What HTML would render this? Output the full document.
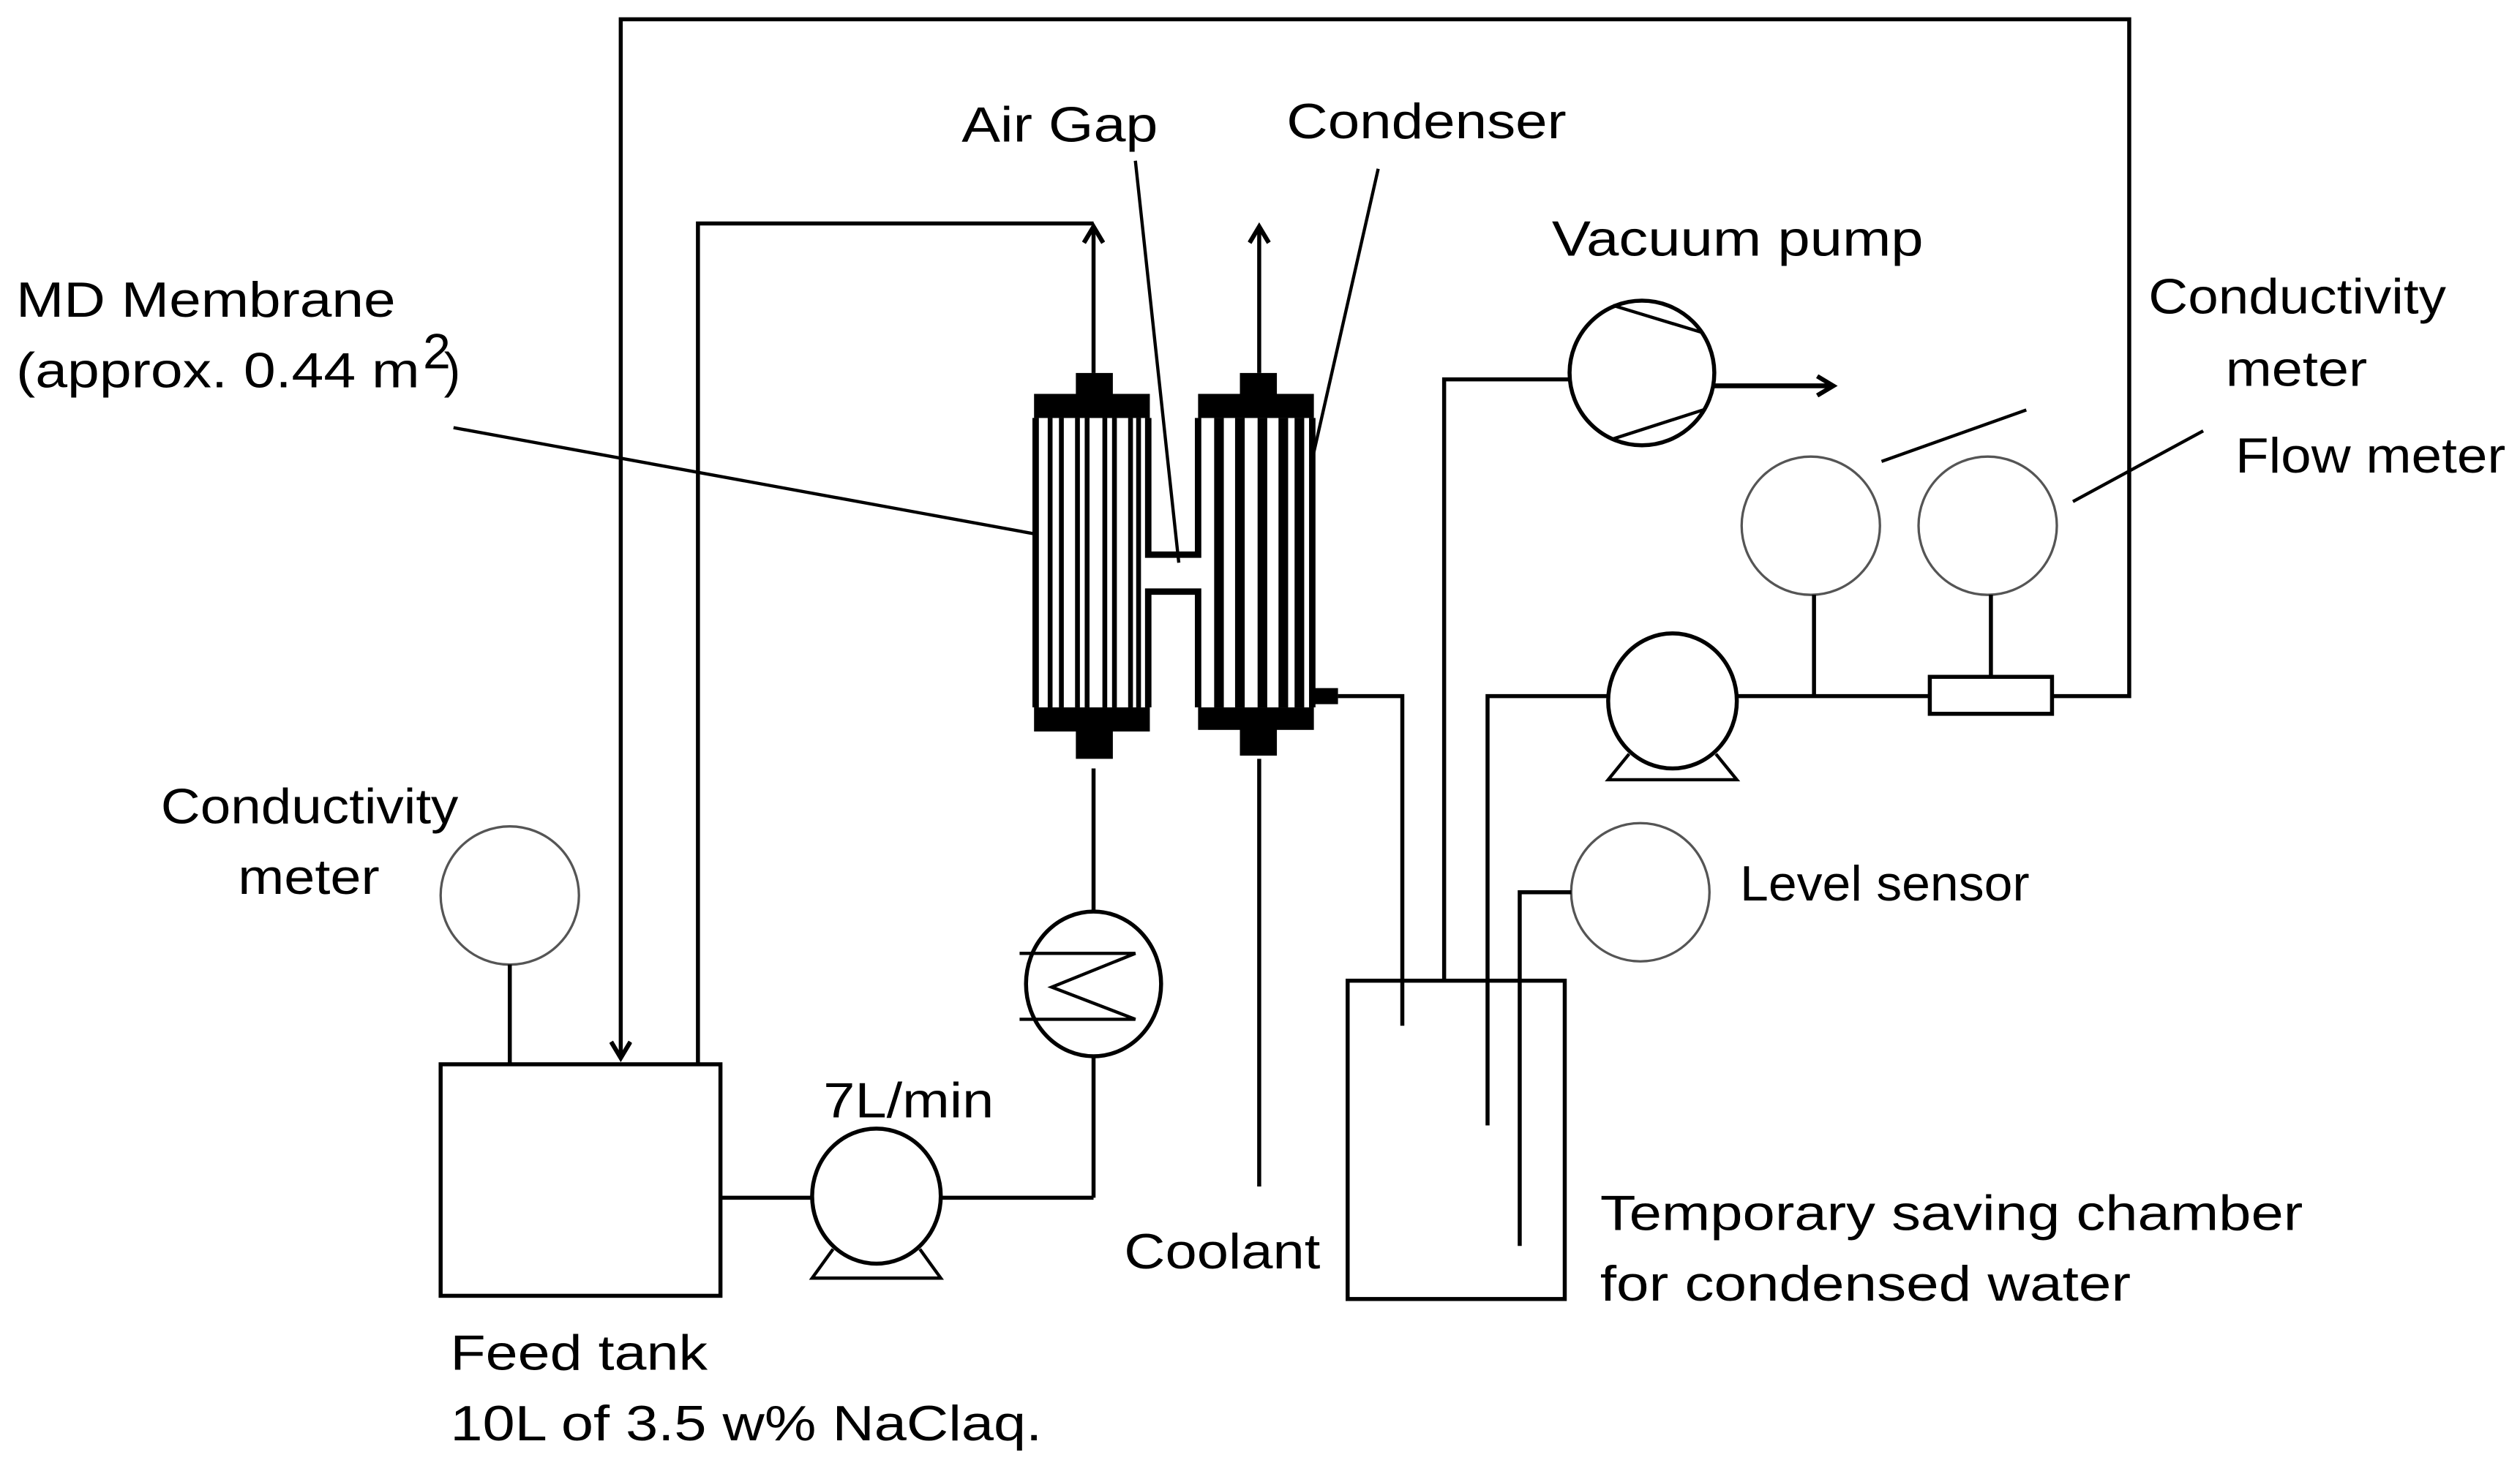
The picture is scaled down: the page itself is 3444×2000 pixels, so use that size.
<!DOCTYPE html>
<html><head><meta charset="utf-8"><style>
html,body{margin:0;padding:0;background:#fff}
svg{display:block}
text{font-family:"Liberation Sans",sans-serif;font-size:31px;fill:#000}
</style></head><body>
<svg width="3444" height="2000" viewBox="0 0 1567 910" preserveAspectRatio="none" xmlns="http://www.w3.org/2000/svg">
<defs>
<marker id="ar" markerWidth="14" markerHeight="14" refX="11" refY="7" orient="auto" markerUnits="userSpaceOnUse" viewBox="0 0 14 14">
<path d="M1,1 L11,7 L1,13" fill="none" stroke="#000" stroke-width="2.8"/>
</marker>
</defs>
<g fill="none" stroke="#000" stroke-width="2.5">
<polyline points="1276,433 1324,433 1324,12 386,12 386,658" marker-end="url(#ar)"/>
<polyline points="434,662 434,139 680,139"/>
<line x1="680" y1="232" x2="680" y2="141" marker-end="url(#ar)"/>
<line x1="783" y1="232" x2="783" y2="141" marker-end="url(#ar)"/>
<line x1="680" y1="478" x2="680" y2="567"/>
<line x1="783" y1="472" x2="783" y2="738"/>
<ellipse cx="680" cy="612" rx="42" ry="45"/>
<polyline points="634,593 706,593 654,614 706,634 634,634" stroke-width="2"/>
<line x1="680" y1="657" x2="680" y2="745"/>
<line x1="448" y1="745" x2="505" y2="745"/>
<line x1="585" y1="745" x2="680" y2="745"/>
<ellipse cx="545" cy="744" rx="40" ry="42"/>
<polyline points="518,777 505,795 585,795 572,777" stroke-width="2"/>
<rect x="274" y="662" width="174" height="144"/>
<circle cx="317" cy="557" r="43" stroke="#555" stroke-width="1.5"/>
<line x1="317" y1="600" x2="317" y2="662"/>
<polyline points="832,433 872,433 872,638"/>
<rect x="838" y="610" width="135" height="198"/>
<polyline points="898,610 898,236 977,236"/>
<circle cx="1021" cy="232" r="45"/>
<line x1="1003" y1="190" x2="1059" y2="207" stroke-width="2"/>
<line x1="1003" y1="273" x2="1059" y2="255" stroke-width="2"/>
<line x1="1066" y1="240" x2="1140" y2="240" stroke-width="3" marker-end="url(#ar)"/>
<polyline points="925,700 925,433 1000,433"/>
<ellipse cx="1040" cy="436" rx="40" ry="42"/>
<polyline points="1013,469 1000,485 1080,485 1067,469" stroke-width="2"/>
<line x1="1080" y1="433" x2="1200" y2="433"/>
<rect x="1200" y="421" width="76" height="23"/>
<circle cx="1126" cy="327" r="43" stroke="#555" stroke-width="1.5"/>
<line x1="1128" y1="370" x2="1128" y2="433"/>
<circle cx="1236" cy="327" r="43" stroke="#555" stroke-width="1.5"/>
<line x1="1238" y1="370" x2="1238" y2="421"/>
<circle cx="1020" cy="555" r="43" stroke="#555" stroke-width="1.5"/>
<polyline points="977,555 945,555 945,775"/>
<line x1="282" y1="266" x2="643" y2="332" stroke-width="2"/>
<line x1="706" y1="100" x2="733" y2="350" stroke-width="2"/>
<line x1="857" y1="105" x2="815" y2="290" stroke-width="2"/>
<line x1="1170" y1="287" x2="1260" y2="255" stroke-width="2"/>
<line x1="1289" y1="312" x2="1370" y2="268" stroke-width="2"/>
</g>
<g>
<rect x="669" y="232" width="23" height="16" fill="#000"/>
<rect x="643" y="245" width="72" height="15" fill="#000"/>
<rect x="643" y="440" width="72" height="15" fill="#000"/>
<rect x="669" y="452" width="23" height="20" fill="#000"/>
<path d="M644,260 V440 M714,260 V345 H745 V260 M714,440 V368 H745 V440" fill="none" stroke="#000" stroke-width="4"/>
<g stroke="#000" stroke-width="3">
<line x1="653" y1="260" x2="653" y2="440"/><line x1="660" y1="260" x2="660" y2="440"/>
<line x1="670" y1="260" x2="670" y2="440"/><line x1="676" y1="260" x2="676" y2="440"/>
<line x1="687" y1="260" x2="687" y2="440"/><line x1="693" y1="260" x2="693" y2="440"/>
<line x1="703" y1="260" x2="703" y2="440"/><line x1="708" y1="260" x2="708" y2="440"/>
</g>
</g>
<g>
<rect x="771" y="232" width="23" height="16" fill="#000"/>
<rect x="745" y="245" width="72" height="15" fill="#000"/>
<rect x="745" y="440" width="72" height="14" fill="#000"/>
<rect x="771" y="452" width="23" height="18" fill="#000"/>
<path d="M816,260 V440" fill="none" stroke="#000" stroke-width="4"/>
<g stroke="#000" stroke-width="6">
<line x1="758" y1="260" x2="758" y2="440"/><line x1="785" y1="260" x2="785" y2="440"/>
<line x1="771" y1="260" x2="771" y2="440"/><line x1="798" y1="260" x2="798" y2="440"/>
<line x1="808" y1="260" x2="808" y2="440"/>
</g>
<rect x="816" y="428" width="16" height="10" fill="#000"/>
</g>
<text x="10" y="197" textLength="236" lengthAdjust="spacingAndGlyphs">MD Membrane</text>
<text x="10" y="241" textLength="251" lengthAdjust="spacingAndGlyphs">(approx.  0.44 m</text>
<text x="263" y="229" font-size="19">2</text>
<text x="276" y="241">)</text>
<text x="598" y="88" textLength="122" lengthAdjust="spacingAndGlyphs">Air Gap</text>
<text x="800" y="86" textLength="174" lengthAdjust="spacingAndGlyphs">Condenser</text>
<text x="965" y="159" textLength="231" lengthAdjust="spacingAndGlyphs">Vacuum pump</text>
<text x="1336" y="195" textLength="185" lengthAdjust="spacingAndGlyphs">Conductivity</text>
<text x="1384" y="240" textLength="88" lengthAdjust="spacingAndGlyphs">meter</text>
<text x="1390" y="294" textLength="168" lengthAdjust="spacingAndGlyphs">Flow meter</text>
<text x="1082" y="560" textLength="180" lengthAdjust="spacingAndGlyphs">Level sensor</text>
<text x="100" y="512" textLength="185" lengthAdjust="spacingAndGlyphs">Conductivity</text>
<text x="148" y="556" textLength="88" lengthAdjust="spacingAndGlyphs">meter</text>
<text x="512" y="695" textLength="106" lengthAdjust="spacingAndGlyphs">7L/min</text>
<text x="699" y="789" textLength="122" lengthAdjust="spacingAndGlyphs">Coolant</text>
<text x="995" y="765" textLength="437" lengthAdjust="spacingAndGlyphs">Temporary saving chamber</text>
<text x="995" y="809" textLength="330" lengthAdjust="spacingAndGlyphs">for condensed water</text>
<text x="280" y="852" textLength="160" lengthAdjust="spacingAndGlyphs">Feed tank</text>
<text x="280" y="896" textLength="368" lengthAdjust="spacingAndGlyphs">10L of 3.5 w% NaClaq.</text>
</svg>
</body></html>
